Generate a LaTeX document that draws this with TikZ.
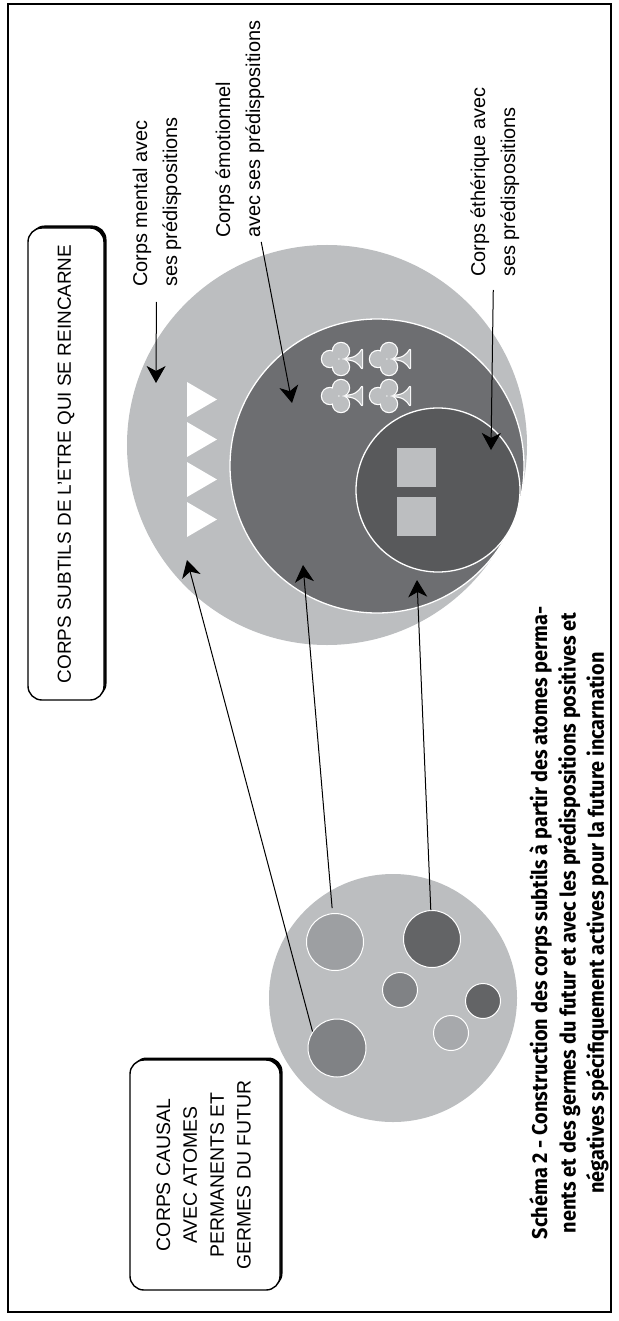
\documentclass[tikz,border=0pt]{standalone}
\usepackage{fontspec}
\setmainfont{Liberation Sans}
\newfontfamily\captfamily{Fira Sans}[FakeStretch=0.93]
\usepackage{tikz}
\usetikzlibrary{arrows.meta,shadows}
\definecolor{lightg}{HTML}{BCBEC0}
\definecolor{midg}{HTML}{6D6E71}
\definecolor{darkg}{HTML}{58595B}
\definecolor{atomA}{HTML}{9D9FA2}
\definecolor{atomB}{HTML}{636466}
\definecolor{atomC}{HTML}{808285}
\definecolor{atomE}{HTML}{A7A9AC}
\newcommand{\clubat}[2]{%
  \begin{scope}[shift={(#1,#2)}]
    \draw[white, line width=2.4bp] (-5,0) circle[radius=8bp]
      (6,-8) circle[radius=8bp] (6,8) circle[radius=8bp];
    \draw[white, line width=2.4bp, line join=round] (8,0)
      .. controls (20,0) and (24,-4) .. (27,-9) -- (27,9)
      .. controls (24,4) and (20,0) .. (8,0) -- cycle;
    \fill[lightg] (-5,0) circle[radius=8bp]
      (6,-8) circle[radius=8bp] (6,8) circle[radius=8bp];
    \fill[lightg] (8,0)
      .. controls (20,0) and (24,-4) .. (27,-9) -- (27,9)
      .. controls (24,4) and (20,0) .. (8,0) -- cycle;
  \end{scope}}
\tikzset{
  bodyc/.style  ={circle, inner sep=0pt, draw=white, line width=1.3bp},
  atom/.style   ={circle, inner sep=0pt, draw=white, line width=1bp,
                  minimum size=57bp},
  satom/.style  ={circle, inner sep=0pt, draw=white, line width=1bp,
                  minimum size=35bp},
  lbl/.style    ={rotate=90, align=left, inner sep=0pt,
                  font=\fontsize{20}{30}\selectfont},
  boxtxt/.style ={draw, line width=1.4bp, fill=white, rounded corners=14bp,
                  inner sep=0pt,
                  drop shadow={shadow xshift=2.5bp, shadow yshift=2.5bp,
                               fill=black, opacity=1}},
  capt/.style   ={rotate=90, align=center, inner sep=0pt,
                  font=\captfamily\bfseries\fontsize{21.5}{28.5}\selectfont},
  arr/.style    ={-{Stealth[length=17bp, width=19bp, inset=5bp]},
                  line width=1bp},
}
\begin{document}
\begin{tikzpicture}[x=1bp, y=-1bp]
  \useasboundingbox (0,0) rectangle (619,1321);
  \draw[line width=2.2bp] (8,4) rectangle (611,1312);

  % corps subtils
  \node[bodyc, draw=none, fill=lightg, minimum size=400bp] (mentalc) at (327,445) {};
  \node[bodyc, fill=midg, minimum size=294bp] (emoc) at (377,466) {};
  \node[bodyc, fill=darkg, minimum size=164bp] (ethc) at (438,490) {};
  \foreach \ty in {382,422,462,502}
    \fill[white] (187,\ty) -- (217,\ty+17.5) -- (187,\ty+35) -- cycle;
  \foreach \cx in {335,383}
    \foreach \cy in {359,396}
      {\clubat{\cx}{\cy}}
  \fill[lightg] (397,448) rectangle (436,487);
  \fill[lightg] (397,497) rectangle (436,536);

  % corps causal
  \node[bodyc, draw=none, fill=lightg, minimum size=248bp] (causc) at (393,998) {};
  \node[atom, fill=atomA] (atA) at (335,942) {};
  \node[atom, fill=atomB] (atB) at (432,939) {};
  \node[satom, fill=atomC] (atC) at (400,990) {};
  \node[satom, fill=atomB] (atD) at (483,1001) {};
  \node[satom, fill=atomE] (atE) at (451,1033) {};
  \node[atom, fill=atomC, minimum size=58bp] (atF) at (337,1048) {};

  \node[boxtxt, minimum width=76bp, minimum height=472bp,
        font=\fontsize{19}{23}\selectfont] (subtbox) at (66,464)
    {\rotatebox{90}{CORPS SUBTILS DE L'ETRE QUI SE REINCARNE}};
  \node[boxtxt, minimum width=150bp, minimum height=230bp,
        font=\fontsize{19.5}{27}\selectfont] (causbox) at (205,1175)
    {\rotatebox{90}{\begin{tabular}{@{}c@{}}CORPS CAUSAL\\AVEC ATOMES\\
     PERMANENTS ET\\GERMES DU FUTUR\end{tabular}}};

  % base = baseline of the last line
  \node[lbl, anchor=base west] (mentallbl) at (177,287)
    {Corps mental avec\\ses prédispositions};
  \node[lbl, anchor=base west] (emolbl) at (260,238)
    {Corps émotionnel\\avec ses prédispositions};
  \node[lbl, anchor=base west] (ethlbl) at (515,277)
    {Corps éthérique avec\\ses prédispositions};

  \coordinate (mentip) at (156,383);
  \coordinate (emotip) at (292,403);
  \coordinate (ethtip) at (491,450);
  \coordinate (mentipb) at (187,560);
  \coordinate (emotipb) at (303,565);
  \coordinate (ethtipb) at (417,580);

  \draw[arr, shorten <=15bp] (mentallbl) -- (mentip);
  \draw[arr, shorten <=4bp] (emolbl) -- (emotip);
  \draw[arr, shorten <=13bp] (ethlbl) -- (ethtip);
  \draw[arr] (atF.146) -- (mentipb);
  \draw[arr, shorten <=5bp] (atA) -- (emotipb);
  \draw[arr] (atB) -- (ethtipb);

  \node[capt] (caption) at (569,923)
    {Schéma 2 - Construction des corps subtils à partir des atomes perma-\\
     nents et des germes du futur et avec les prédispositions positives et\\
     négatives spécifiquement actives pour la future incarnation};
\end{tikzpicture}
\end{document}
